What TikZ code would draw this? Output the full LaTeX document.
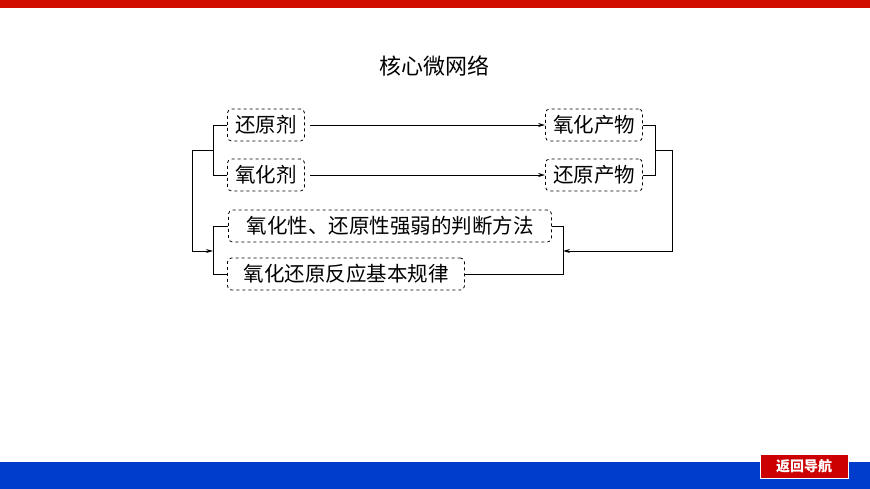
\documentclass[tikz,border=0pt]{standalone}
\usepackage{fontspec}
\newfontfamily\cjk{Noto Sans CJK SC}
\usetikzlibrary{arrows.meta}
\begin{document}
\begin{tikzpicture}[x=1pt,y=-1pt,
  bx/.style={draw,dashed,rounded corners=4pt,inner sep=1pt,font=\cjk\fontsize{20.5}{20.5}\selectfont,minimum height=32pt,line width=0.8pt},
  ln/.style={line width=0.9pt},
  ar/.style={ln,-{Stealth[length=7pt,width=4pt]}}]
\useasboundingbox (0,0) rectangle (870,489);
\fill[white] (0,0) rectangle (870,489);
\fill[red!80!black!90!orange] (0,0) rectangle (870,8);
\fill[blue!70!cyan!80!black] (0,462) rectangle (870,489);
\node[draw=white,line width=1pt,fill=red!80!black,text=white,font=\cjk\bfseries\fontsize{14}{14}\selectfont,minimum width=88pt,minimum height=24pt,inner sep=0pt] (nav) at (804,466) {返回导航};
\node[font=\cjk\fontsize{22}{22}\selectfont] (title) at (434,66) {核心微网络};
\node[bx,minimum width=77pt] (a) at (266,125) {还原剂};
\node[bx,minimum width=77pt] (b) at (266,175) {氧化剂};
\node[bx,minimum width=97pt] (c) at (594,125) {氧化产物};
\node[bx,minimum width=97pt] (d) at (594,175) {还原产物};
\node[bx,minimum width=323pt] (e) at (390,226) {氧化性、还原性强弱的判断方法};
\node[bx,minimum width=237pt] (f) at (346,274) {氧化还原反应基本规律};
\draw[ar] (310,125) -- (c.west);
\draw[ar] (310,175) -- (d.west);
\draw[ln] (a.west) -- (213,125) -- (213,175) -- (b.west);
\draw[ln] (c.east) -- (655,125) -- (655,175) -- (d.east);
\draw[ln] (e.west) -- (213,226) -- (213,274) -- (f.west);
\draw[ln] (e.east) -- (563,226) -- (563,274) -- (f.east);
\coordinate (lm) at (213,150);
\coordinate (rm) at (655,150);
\draw[ar] (lm) -- (192,150) -- (192,251) -- (213,251);
\draw[ar] (rm) -- (672,150) -- (672,251) -- (563,251);
\end{tikzpicture}
\end{document}
